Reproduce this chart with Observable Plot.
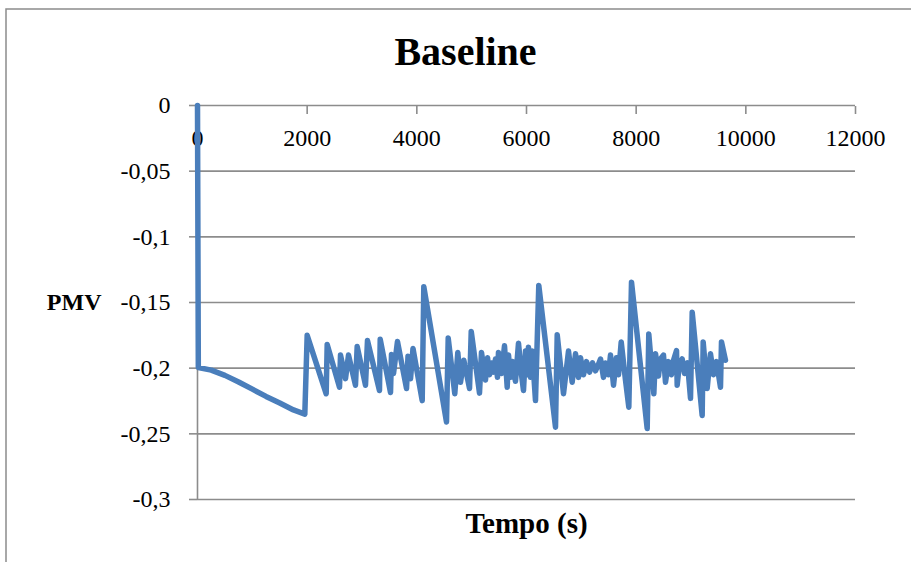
<!DOCTYPE html>
<html><head><meta charset="utf-8">
<script src="https://cdn.jsdelivr.net/npm/d3@7"></script>
<script src="https://cdn.jsdelivr.net/npm/@observablehq/plot@0.6"></script>
<style>body{margin:0;background:#fff;}</style>
</head><body><div id="chart"></div>
<script>
const title = "Baseline";
const xLabel = "Tempo (s)";
const yLabel = "PMV";
const xTicks = [0, 2000, 4000, 6000, 8000, 10000, 12000];
const yTicks = [0, -0.05, -0.1, -0.15, -0.2, -0.25, -0.3];

const tempo = [
  0, 15, 250, 500, 750, 1000, 1250, 1500, 1750, 1957,
  2000, 2347, 2365, 2590, 2608, 2699, 2754, 2881, 2912, 3064,
  3100, 3319, 3332, 3520, 3538, 3575, 3647, 3812, 3839, 3885,
  3930, 4098, 4127, 4541, 4572, 4692, 4747, 4796, 4857, 4961,
  4992, 5143, 5179, 5252, 5289, 5325, 5362, 5398, 5435, 5471,
  5489, 5544, 5599, 5648, 5672, 5708, 5745, 5799, 5854, 5909,
  5945, 5982, 6018, 6036, 6073, 6104, 6164, 6224, 6529, 6560,
  6675, 6766, 6833, 6894, 6948, 6985, 7040, 7094, 7149, 7204,
  7258, 7313, 7350, 7404, 7441, 7495, 7532, 7587, 7641, 7678,
  7727, 7805, 7866, 7915, 8201, 8230, 8322, 8353, 8407, 8444,
  8498, 8535, 8590, 8644, 8681, 8736, 8748, 8790, 8839, 8881,
  8936, 8991, 9022, 9204, 9222, 9295, 9355, 9410, 9465, 9538,
  9556, 9629
];
const pmv = [
  0, -0.1995, -0.2015, -0.2055, -0.2105, -0.216, -0.2215, -0.2265, -0.2318, -0.235,
  -0.175, -0.2195, -0.182, -0.2145, -0.19, -0.208, -0.19, -0.213, -0.1835, -0.213,
  -0.179, -0.217, -0.178, -0.2185, -0.1895, -0.204, -0.1797, -0.2155, -0.191, -0.208,
  -0.185, -0.2247, -0.138, -0.241, -0.177, -0.2195, -0.188, -0.2107, -0.194, -0.2155,
  -0.172, -0.219, -0.188, -0.209, -0.192, -0.205, -0.196, -0.203, -0.193, -0.207,
  -0.188, -0.204, -0.183, -0.2145, -0.19, -0.207, -0.195, -0.21, -0.181, -0.205,
  -0.217, -0.187, -0.205, -0.184, -0.207, -0.187, -0.2247, -0.137, -0.245, -0.1746,
  -0.2195, -0.187, -0.2107, -0.189, -0.207, -0.192, -0.205, -0.195, -0.203, -0.196,
  -0.202, -0.197, -0.193, -0.207, -0.196, -0.205, -0.19, -0.213, -0.192, -0.205,
  -0.18, -0.209, -0.2297, -0.1345, -0.246, -0.1739, -0.2195, -0.189, -0.206, -0.193,
  -0.19, -0.2107, -0.195, -0.205, -0.194, -0.1866, -0.213, -0.196, -0.193, -0.204,
  -0.196, -0.223, -0.1574, -0.236, -0.18, -0.2155, -0.189, -0.205, -0.195, -0.2145,
  -0.18, -0.194
];

const data = tempo.map((t, i) => ({t, v: pmv[i]}));
const gray = "#8c8c8c";
const fmtY = d => String(d).replace(".", ",");

const chart = Plot.plot({
  width: 911, height: 562,
  marginLeft: 197, marginRight: 56, marginTop: 105, marginBottom: 63,
  style: {fontFamily: "'Liberation Serif', serif", fontSize: "24px", color: "#000", background: "#fff"},
  x: {domain: [0, 12000], label: null},
  y: {domain: [-0.3, 0], label: null},
  marks: [
    Plot.frame({stroke: gray, strokeWidth: 1.5, insetLeft: -191.5, insetTop: -96.5, insetRight: -80, insetBottom: -80}),
    Plot.ruleY(yTicks, {stroke: gray, strokeWidth: 1.6}),
    Plot.ruleX([0], {stroke: gray, strokeWidth: 1.6}),
    Plot.axisY({ticks: yTicks, tickSize: 8, tickPadding: 19, tickFormat: fmtY, stroke: gray, strokeWidth: 1.6, fontSize: 24, label: null}),
    Plot.axisX({anchor: "top", ticks: xTicks, tickSize: -8, tickFormat: () => "", stroke: gray, strokeWidth: 1.6, label: null}),
    Plot.text(xTicks, {x: d => d, y: 0, dy: 33, text: d => String(d), fontSize: 24}),
    Plot.line(data, {x: "t", y: "v", stroke: "#4a7ebb", strokeWidth: 5.5, strokeLinejoin: "round", strokeLinecap: "round"}),
    Plot.text([yLabel], {frameAnchor: "left", dx: -96, textAnchor: "end", lineAnchor: "middle", fontWeight: "bold", fontSize: 24}),
    Plot.text([title], {frameAnchor: "top", lineAnchor: "middle", dx: -61, dy: -53, fontWeight: "bold", fontSize: 40}),
    Plot.text([xLabel], {frameAnchor: "bottom", lineAnchor: "middle", dy: 24, fontWeight: "bold", fontSize: 29})
  ]
});
document.getElementById("chart").appendChild(chart);
</script>
</body></html>
